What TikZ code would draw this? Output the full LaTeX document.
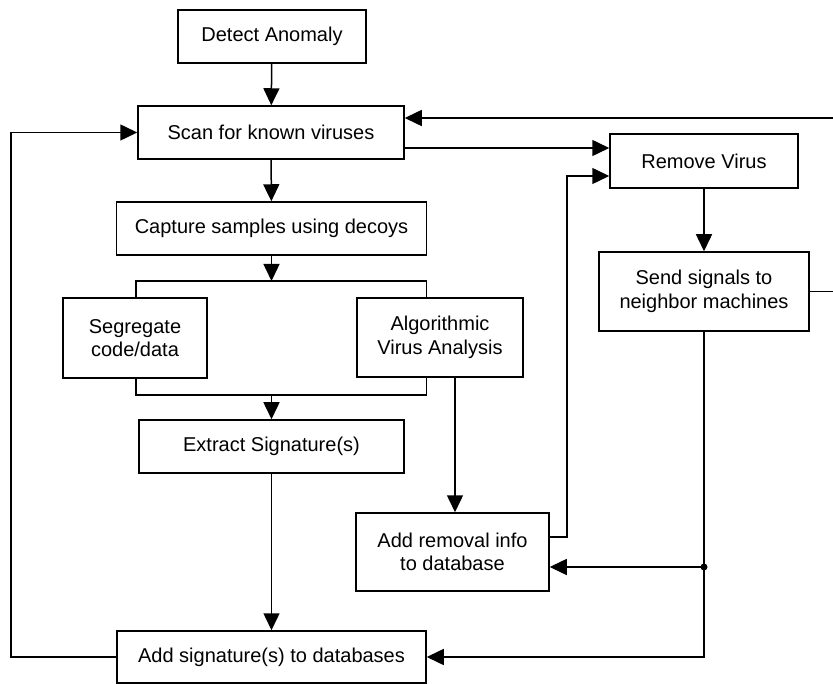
\documentclass[tikz,border=0pt]{standalone}
\usepackage{fontspec}
\setmainfont{Liberation Sans}
\usetikzlibrary{arrows.meta}
\begin{document}
\begin{tikzpicture}[x=1pt,y=-1pt,
  line width=1.5pt,
  stepbox/.style={draw, rectangle, inner sep=0pt, align=center,
    font=\fontsize{20}{23.5}\selectfont},
  arr/.style={-{Triangle[length=17pt,width=16pt]}}
]
\useasboundingbox (0,0) rectangle (833,684);

% main column
\node[stepbox, minimum width=188pt, minimum height=53pt] (detect)  at (272,36.5)  {Detect Anomaly};
\node[stepbox, minimum width=266pt, minimum height=53pt] (scan)    at (271,132.5) {Scan for known viruses};
\node[stepbox, minimum width=310pt, minimum height=53pt] (capture) at (271.5,228.5) {Capture samples using decoys};
\node[stepbox, minimum width=144pt, minimum height=80pt] (seg)     at (135,338)   {Segregate\\code/data};
\node[stepbox, minimum width=166pt, minimum height=79pt] (alg)     at (440,337.5) {Algorithmic\\Virus Analysis};
\node[stepbox, minimum width=265pt, minimum height=53pt] (extract) at (271.5,446.5) {Extract Signature(s)};
\node[stepbox, minimum width=193pt, minimum height=78pt] (addrem)  at (452.5,552) {Add removal info\\to database};
\node[stepbox, minimum width=309pt, minimum height=52pt] (addsig)  at (271.5,657) {Add signature(s) to databases};

% right column
\node[stepbox, minimum width=188pt, minimum height=54pt] (remove)  at (704,161)   {Remove Virus};
\node[stepbox, minimum width=210pt, minimum height=79pt] (send)    at (704,291.5) {Send signals to\\neighbor machines};

% helper points for the routed connectors
\coordinate (rtop)  at (833,118);
\coordinate (sr)    at (0,148);
\coordinate (lx)    at (11,0);
\coordinate (bl)    at (136,281);
\coordinate (br)    at (426.7,281);
\coordinate (bbl)   at (136,395);
\coordinate (bbr)   at (426.7,395);
\coordinate (ax)    at (455,0);
\coordinate (fbx)   at (567,537);
\coordinate (rvlow) at (0,176);
\coordinate (rsend) at (833,0);
\coordinate (dot)   at (704,567);

% connectors
\draw[arr] (detect) -- (scan);
\draw[arr] (rtop) -- (scan.east |- rtop);
\draw[arr] (scan.east |- sr) -- (remove.west |- sr);
\draw[arr] (addsig.west) -| (lx |- scan.west) -- (scan.west);
\draw[arr] (scan) -- (capture);

\draw (seg.north -| bl) -- (bl) -- (br) -- (alg.north -| br);
\draw[arr] (capture.south) -- (capture.south |- bl);
\draw (seg.south -| bbl) -- (bbl) -- (bbr) -- (alg.south -| bbr);
\draw[arr] (extract.north |- bbl) -- (extract.north);

\draw[arr] (extract) -- (addsig);
\draw[arr] (alg.south -| ax) -- (addrem.north -| ax);
\draw[arr] (addrem.east |- fbx) -- (fbx) |- (remove.west |- rvlow);

\draw[arr] (remove) -- (send);
\draw (send.east) -- (send.east -| rsend);
\draw[arr] (send.south) |- (addsig.east);
\draw[arr] (dot) -- (addrem.east |- dot);
\fill (dot) circle (3.5pt);
\end{tikzpicture}
\end{document}
